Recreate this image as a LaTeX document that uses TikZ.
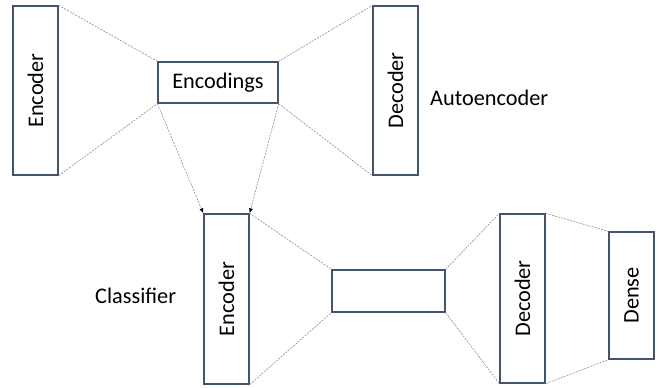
\documentclass[tikz,border=0pt]{standalone}
\usepackage{fontspec}
\setmainfont{Carlito}
\usetikzlibrary{arrows.meta}
\definecolor{boxline}{HTML}{44546A}
\definecolor{dashline}{HTML}{8C8C8C}
\begin{document}
\begin{tikzpicture}[x=1pt,y=-1pt,
  box/.style={draw=boxline,line width=1.3pt,fill=white,inner sep=0pt},
  lbl/.style={font=\fontsize{22.3}{26}\selectfont},
  conn/.style={draw=dashline,line width=0.6pt,dash pattern=on 2pt off 1.2pt},
  arr/.style={conn,-{Latex[length=5pt,width=4pt,black]}}]
\useasboundingbox (0,0) rectangle (659,388);
% autoencoder
\node[box,minimum width=45pt,minimum height=169pt] (enc1) at (35.5,90.5) {};
\node[lbl,rotate=90] at (enc1.center) {Encoder};
\node[box,minimum width=120pt,minimum height=41pt,lbl] (emb) at (218,82.5) {Encodings};
\node[box,minimum width=45pt,minimum height=169pt] (dec1) at (395.5,90.5) {};
\node[lbl,rotate=90] at (dec1.center) {Decoder};
\node[lbl,anchor=west,inner sep=0pt] (ae) at (430,98) {Autoencoder};
% classifier
\node[box,minimum width=45pt,minimum height=170pt] (enc2) at (226.5,299) {};
\node[lbl,rotate=90] at (enc2.center) {Encoder};
\node[box,minimum width=113pt,minimum height=42pt] (mid) at (388.5,291) {};
\node[box,minimum width=45pt,minimum height=169pt] (dec2) at (522.5,298.5) {};
\node[lbl,rotate=90] at (dec2.center) {Decoder};
\node[box,minimum width=45pt,minimum height=127pt] (dense) at (631.5,295.5) {};
\node[lbl,rotate=90] at (dense.center) {Dense};
\node[lbl,anchor=west,inner sep=0pt] (cl) at (95,296) {Classifier};
% connectors
\draw[conn] (enc1.north east) -- (emb.north west);
\draw[conn] (enc1.south east) -- (emb.south west);
\draw[conn] (emb.north east) -- (dec1.north west);
\draw[conn] (emb.south east) -- (dec1.south west);
\draw[arr] (emb.south west) -- (enc2.north west);
\draw[arr] (emb.south east) -- (enc2.north east);
\draw[conn] (enc2.north east) -- (mid.north west);
\draw[conn] (enc2.south east) -- (mid.south west);
\draw[conn] (mid.north east) -- (dec2.north west);
\draw[conn] (mid.south east) -- (dec2.south west);
\draw[conn] (dec2.north east) -- (dense.north west);
\draw[conn] (dec2.south east) -- (dense.south west);
\end{tikzpicture}
\end{document}
